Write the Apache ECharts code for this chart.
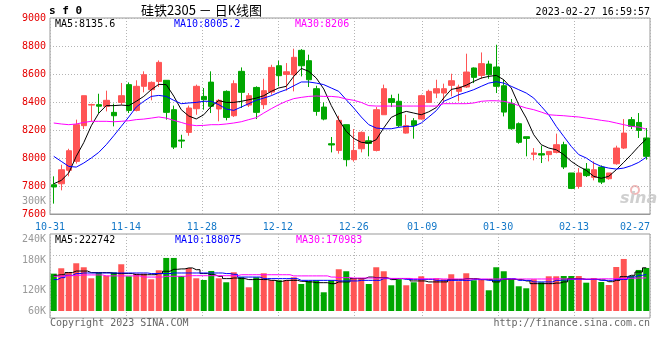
<!DOCTYPE html>
<html><head><meta charset="utf-8">
<script src="https://cdn.jsdelivr.net/npm/echarts@6/dist/echarts.min.js"></script>
<style>html,body{margin:0;padding:0;background:#fff}#c{width:660px;height:360px}</style>
</head><body><div id="c"></div>
<script>
const dates = ['10-31',
'11-01','11-02','11-03','11-04','11-07','11-08','11-09','11-10','11-11','11-14','11-15','11-16','11-17','11-18','11-21','11-22','11-23','11-24','11-25','11-28','11-29','11-30',
'12-01','12-02','12-05','12-06','12-07','12-08','12-09','12-12','12-13','12-14','12-15','12-16','12-19','12-20','12-21','12-22','12-23','12-26','12-27','12-28','12-29','12-30',
'01-03','01-04','01-05','01-06','01-09','01-10','01-11','01-12','01-13','01-16','01-17','01-18','01-19','01-20','01-30','01-31',
'02-01','02-02','02-03','02-06','02-07','02-08','02-09','02-10','02-13','02-14','02-15','02-16','02-17','02-20','02-21','02-22','02-23','02-24','02-27'];
const tickLabels = ['10-31','11-14','11-28','12-12','12-26','01-09','01-30','02-13','02-27'];

const openP = [7809,7816,7912,7976,8231,8378,8381,8369,8326,8397,8524,8340,8512,8488,8547,8555,8345,8128,8183,8352,8440,8542,8350,
8476,8302,8619,8378,8504,8381,8471,8659,8597,8595,8769,8695,8495,8364,8102,8054,8238,7988,8066,8123,8054,8309,8424,8405,8178,8266,8278,8397,8464,
8464,8519,8476,8507,8643,8590,8671,8650,8516,8388,8245,8152,8026,8031,8024,8040,8095,7893,7797,7921,7862,7935,7852,7959,8071,8274,8254,8143];
const closeP = [7793,7916,8052,8238,8445,8382,8370,8412,8302,8445,8340,8512,8595,8540,8683,8326,8078,8121,8357,8512,8416,8369,8412,
8290,8531,8469,8445,8326,8481,8647,8588,8616,8719,8659,8559,8333,8278,8093,8269,7988,8054,8183,8104,8345,8495,8397,8231,8231,8233,8445,8476,8495,
8495,8552,8507,8614,8576,8674,8595,8512,8328,8209,8112,8140,8036,8021,8047,8095,7936,7783,7893,7874,7916,7828,7893,8071,8178,8226,8197,8012];
const lowP = [7674,7769,7869,7960,8207,8262,8321,8333,8226,8380,8321,8333,8469,8412,8507,8274,8064,8071,8159,8309,8345,8321,8262,
8269,8293,8357,8364,8278,8350,8452,8512,8481,8476,8583,8507,8302,8269,8040,8031,7940,7974,8040,8012,8047,8309,8364,8221,8174,8138,8274,8393,8428,
8393,8440,8405,8500,8535,8566,8566,8464,8297,8202,8102,8012,7983,7964,7976,8033,7921,7778,7781,7864,7840,7814,7845,7952,8064,8207,8143,7988];
const highP = [7869,7952,8066,8274,8445,8388,8459,8481,8388,8536,8540,8555,8619,8547,8697,8555,8374,8166,8374,8524,8500,8619,8421,
8483,8555,8647,8464,8512,8566,8666,8695,8678,8781,8778,8738,8516,8397,8150,8302,8238,8207,8190,8155,8364,8524,8452,8459,8309,8285,8452,8488,8559,
8531,8602,8524,8745,8647,8754,8695,8809,8559,8421,8254,8152,8071,8088,8047,8174,8116,7893,7928,7964,7976,7947,7893,8088,8278,8293,8321,8214];

const ma5 = [7816,7840,7893,8012,8110,8230,8320,8374,8374,8378,8374,8405,8440,8488,8526,8524,8442,8345,8300,8279,8309,8369,8410,
8397,8397,8405,8416,8428,8445,8476,8500,8512,8583,8640,8619,8571,8493,8375,8274,8190,8140,8112,8107,8131,8215,8290,8316,8333,8321,8309,8330,8360,
8429,8490,8500,8520,8547,8571,8583,8590,8559,8500,8380,8285,8166,8095,8071,8059,8024,7976,7940,7912,7869,7855,7869,7916,7969,8024,8083,8135.6];
const ma10 = [8012,7976,7940,7935,7964,8000,8040,8095,8159,8226,8293,8364,8405,8440,8447,8440,8412,8388,8393,8397,8405,8405,8381,
8350,8340,8364,8388,8412,8428,8445,8469,8488,8516,8543,8543,8535,8524,8500,8476,8416,8357,8293,8238,8214,8209,8209,8219,8226,8226,8250,8293,8338,
8405,8428,8452,8469,8488,8512,8535,8545,8535,8512,8488,8464,8428,8369,8309,8226,8154,8083,8024,8000,7964,7940,7928,7921,7928,7945,7969,8005.2];
const ma30 = [8250,8243,8238,8243,8254,8262,8262,8262,8259,8262,8266,8274,8278,8285,8293,8285,8269,8254,8238,8231,8233,8238,8238,
8243,8250,8259,8274,8288,8321,8352,8381,8405,8424,8433,8440,8443,8440,8440,8435,8421,8412,8397,8374,8371,8371,8371,8371,8371,8371,8371,8371,8371,
8388,8388,8388,8388,8393,8405,8409,8409,8405,8393,8374,8357,8345,8328,8309,8305,8302,8297,8293,8285,8278,8269,8262,8250,8238,8226,8221,8206];

// volume in thousands of lots
const volume = [192.5,220.3,199.7,246.1,225.5,168.7,197.6,182.1,199.7,241.0,179.0,192.5,192.5,163.6,210.0,273.5,273.5,180.6,221.9,168.7,
160.0,206.4,168.7,148.1,199.7,175.4,122.3,173.9,194.5,158.4,158.4,158.4,173.9,139.3,154.8,158.4,96.5,158.4,
215.2,204.9,170.3,170.3,139.3,225.5,204.9,132.6,163.6,132.6,148.1,179.0,139.3,168.7,163.6,189.4,153.3,194.5,158.4,163.6,106.8,225.5,
204.9,163.6,127.5,117.1,163.6,148.1,179.0,179.0,180.6,180.6,180.6,146.0,170.3,149.6,134.2,227.0,268.3,180.6,211.6,221.9];
const volMa5 = [184,187,198,206,206,198,198,198,193,193,193,187,187,187,193,205,215,217,222,213,193,187,179,167,170,167,162,163,162,158,
153,158,158,153,150,146,146,141,
150,150,167,167,175,172,172,162,167,167,155,155,150,150,150,162,162,167,167,162,162,150,163,163,162,155,141,141,141,144,
150,167,167,163,163,160,151,158,177,184,201,222.742];
const volMa10 = [162,172,184,193,196,196,196,196,196,196,196,196,196,193,193,193,196,196,196,196,196,196,196,193,189,175,175,175,167,167,
167,167,167,158,158,158,158,158,
155,155,155,158,158,158,167,167,167,163,163,163,163,158,158,158,158,158,162,162,158,158,167,167,158,158,150,150,150,158,
160,163,163,163,163,158,158,163,163,175,184,188.075];
const volMa30 = [179,180,182,184,186,186,186,181,181,181,181,181,175,175,175,179,179,179,182,182,182,182,182,182,182,187,187,187,187,187,
187,187,181,181,181,181,181,175,
172,172,170,170,170,170,170,168,168,168,166,166,166,166,165,165,165,165,165,165,165,165,165,165,165,165,165,165,165,166,
165,165,165,165,165,166,166,167,168,169,170,170.983];
const volAxisLabels = ['300K','240K','180K','120K','60K'];

const RED = '#ff5555', GREEN = '#00a600';
const MONO = '"DejaVu Sans Mono", monospace';
const GRID_LINE = {show: true, lineStyle: {color: '#b4b4b4', type: [1, 2], width: 1}};
const showTick = (i) => tickLabels.includes(dates[i]);

function txt(text, x, y, fill, font, align) {
  return {type: 'text', silent: true, style: {text, x, y, fill, font: font || ('10px ' + MONO),
    align: align || 'left', textAlign: align || 'left', verticalAlign: 'middle', textVerticalAlign: 'middle'}};
}

const chart = echarts.init(document.getElementById('c'), null, {renderer: 'canvas'});
chart.setOption({
  animation: false,
  backgroundColor: '#fff',
  grid: [
    {left: 50, top: 18, width: 600, height: 196, show: true, borderColor: '#999', borderWidth: 1, backgroundColor: 'transparent'},
    {left: 50, top: 234, width: 600, height: 77},
    {left: 50, top: 234, width: 600, height: 84, show: true, borderColor: '#999', borderWidth: 1, backgroundColor: 'transparent'},
    {left: 50, top: 255, width: 600, height: 40}
  ],
  xAxis: [
    {gridIndex: 0, type: 'category', data: dates, boundaryGap: true, show: false, position: 'top'},
    {gridIndex: 0, type: 'category', data: dates, boundaryGap: false, position: 'bottom',
      axisLine: {show: true, lineStyle: {color: '#999', width: 1}}, axisTick: {show: false},
      axisLabel: {interval: showTick, color: '#1478c8', fontFamily: 'DejaVu Sans Mono', fontSize: 10, margin: 8, alignMaxLabel: 'right'},
      splitLine: Object.assign({interval: showTick}, GRID_LINE)},
    {gridIndex: 1, type: 'category', data: dates, boundaryGap: true, show: false},
    {gridIndex: 2, type: 'category', data: dates, boundaryGap: false,
      axisLine: {show: false}, axisTick: {show: false}, axisLabel: {show: false},
      splitLine: Object.assign({interval: showTick}, GRID_LINE)},
    {gridIndex: 3, type: 'value', min: 0, max: 1, show: false}
  ],
  yAxis: [
    {gridIndex: 0, type: 'value', min: 7600, max: 9000, interval: 200,
      axisLine: {show: false}, axisTick: {show: false},
      axisLabel: {color: '#e60000', fontFamily: 'DejaVu Sans Mono', fontSize: 10, margin: 4, showMinLabel: true, showMaxLabel: true,
        padding: [0, 0, 3, 0], formatter: (v) => String(v)},
      splitLine: GRID_LINE},
    {gridIndex: 1, type: 'value', min: 0, max: 397, show: false},
    {gridIndex: 2, type: 'value', min: 0, max: 1, show: false},
    {gridIndex: 3, type: 'value', min: 0, max: 1, interval: 1,
      axisLine: {show: false}, axisTick: {show: false}, axisLabel: {show: false}, splitLine: GRID_LINE}
  ],
  series: [
    {type: 'candlestick', xAxisIndex: 0, yAxisIndex: 0, barWidth: 6,
      data: dates.map((d, i) => [openP[i], closeP[i], lowP[i], highP[i]]),
      itemStyle: {color: RED, color0: GREEN, borderColor: RED, borderColor0: GREEN, borderWidth: 1}},
    {type: 'line', xAxisIndex: 0, yAxisIndex: 0, data: ma5, symbol: 'none', lineStyle: {color: '#000', width: 1}},
    {type: 'line', xAxisIndex: 0, yAxisIndex: 0, data: ma10, symbol: 'none', lineStyle: {color: '#0000ff', width: 1}},
    {type: 'line', xAxisIndex: 0, yAxisIndex: 0, data: ma30, symbol: 'none', lineStyle: {color: '#ff00ff', width: 1}},
    {type: 'bar', xAxisIndex: 2, yAxisIndex: 1, barWidth: 6, data: volume,
      itemStyle: {color: (p) => closeP[p.dataIndex] >= openP[p.dataIndex] ? RED : GREEN}},
    {type: 'line', xAxisIndex: 2, yAxisIndex: 1, data: volMa5, step: 'middle', symbol: 'none', lineStyle: {color: '#000', width: 1}},
    {type: 'line', xAxisIndex: 2, yAxisIndex: 1, data: volMa10, step: 'middle', symbol: 'none', lineStyle: {color: '#0000ff', width: 1}},
    {type: 'line', xAxisIndex: 2, yAxisIndex: 1, data: volMa30, step: 'middle', symbol: 'none', lineStyle: {color: '#ff00ff', width: 1}}
  ],
  graphic: [
    txt('s f 0', 49, 11, '#000', 'bold 11px ' + MONO),
    txt('硅铁2305 － 日K线图', 141, 10, '#000', '13px "Noto Sans CJK SC"'),
    txt('2023-02-27 16:59:57', 650, 12, '#000', null, 'right'),
    txt('MA5:' + ma5[ma5.length - 1], 55, 24, '#000'),
    txt('MA10:' + ma10[ma10.length - 1], 174, 24, '#0000ff'),
    txt('MA30:' + ma30[ma30.length - 1], 295, 24, '#ff00ff'),
    txt('MA5:' + Math.round(volMa5[79] * 1000), 55, 240, '#000'),
    txt('MA10:' + Math.round(volMa10[79] * 1000), 175, 240, '#0000ff'),
    txt('MA30:' + Math.round(volMa30[79] * 1000), 296, 240, '#ff00ff'),
    txt(volAxisLabels[0], 46, 201, '#999', null, 'right'),
    txt(volAxisLabels[1], 46, 239, '#999', null, 'right'),
    txt(volAxisLabels[2], 46, 260, '#999', null, 'right'),
    txt(volAxisLabels[3], 46, 290, '#999', null, 'right'),
    txt(volAxisLabels[4], 46, 311, '#999', null, 'right'),
    txt('Copyright 2023 SINA.COM', 50, 323, '#666'),
    txt('http://finance.sina.com.cn', 650, 323, '#666', null, 'right'),
    {type: 'circle', silent: true, shape: {cx: 635, cy: 190, r: 4}, style: {fill: 'none', stroke: '#f2b8b8', lineWidth: 2}},
    txt('sina', 620, 199, '#cfcfcf', 'italic bold 16px "DejaVu Sans"')
  ]
});
</script></body></html>
